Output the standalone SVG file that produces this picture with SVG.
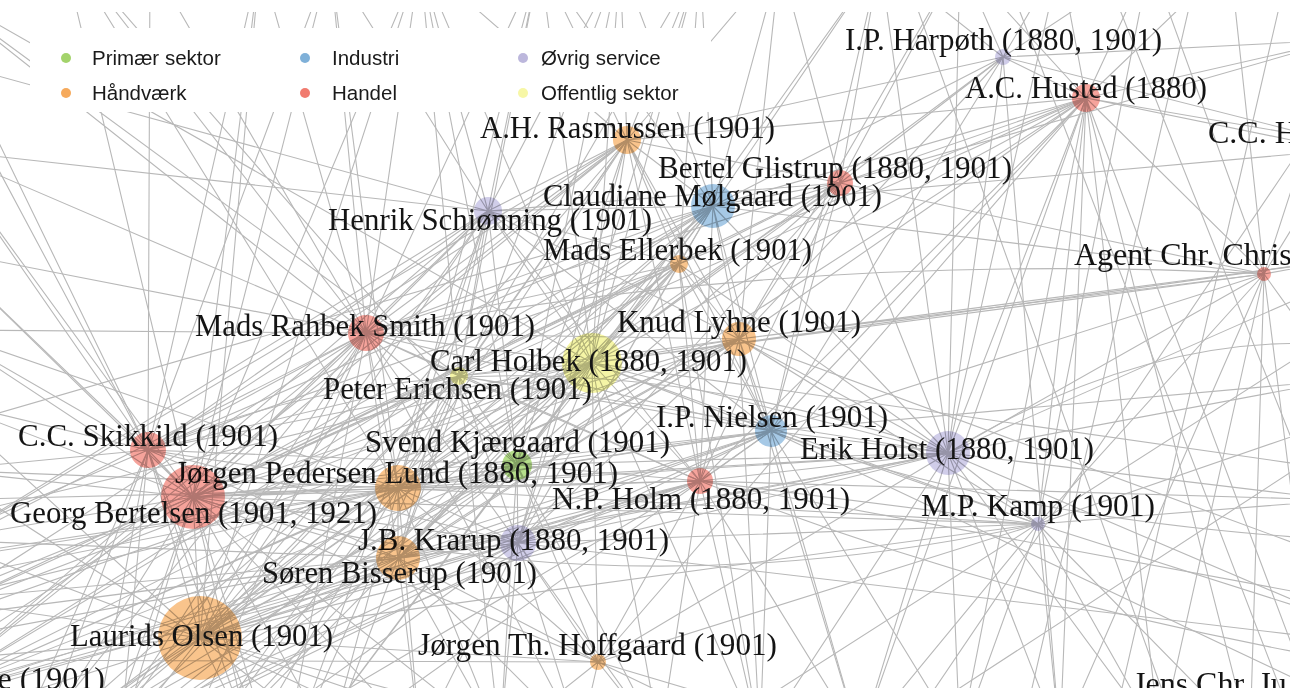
<svg xmlns="http://www.w3.org/2000/svg" width="1290" height="688" viewBox="0 0 1290 688">
<style>
.e{fill:none;stroke:#b8b8b8;stroke-width:1.1;stroke-linejoin:round}
.n{mix-blend-mode:multiply}
.red{fill:#f6a39b}.ora{fill:#f9c48c}.blu{fill:#a6c9e6}.lav{fill:#d0cde9}.gre{fill:#b5de8a}.yel{fill:#f5f5a6}
.lb{font-family:"Liberation Serif","Times New Roman",serif;font-size:32px;fill:#141414}
.lg{font-family:"Liberation Sans",Arial,sans-serif;font-size:20.5px;fill:#1a1a1a}
</style>
<rect width="1290" height="688" fill="#fff"/>
<g id="connectors">
<path class="e" d="M193 497L-60 250 193 497 -60 330 193 497 -60 400 193 497 -60 470 193 497 -60 540 193 497 -60 600 193 497 -60 660 193 497 40 740 193 497 120 740 193 497 250 740 193 497 330 740 193 497 148 450 193 497 200 638 193 497 398 488 193 497 398 558 193 497 518 543 193 497 517 465 193 497 459 376 193 497 366 333 193 497 592 363 193 497 488 211 193 497 627 140 193 497 713 206 193 497 679 264 193 497 739 339 193 497 771 431 193 497 700 481 193 497 948 453 193 497 1038 524 193 497 598 662 193 497 330 -40 193 497 420 -40 193 497 260 -40 193 497 420 740 193 497 500 740 193 497 1086 98 193 497 840 183 193 497 -60 150 193 497 120 705"/>
<path class="e" d="M200 638L-60 400 200 638 -60 470 200 638 -60 540 200 638 -60 600 200 638 -60 660 200 638 -60 720 200 638 40 740 200 638 120 740 200 638 250 740 200 638 330 740 200 638 420 740 200 638 148 450 200 638 398 488 200 638 398 558 200 638 518 543 200 638 517 465 200 638 592 363 200 638 366 333 200 638 459 376 200 638 488 211 200 638 700 481 200 638 771 431 200 638 598 662 200 638 500 740 200 638 580 740 200 638 739 339 200 638 713 206 200 638 948 453 200 638 260 -40 200 638 627 140 200 638 1038 524 200 638 120 705 200 638 420 -40"/>
<path class="e" d="M148 450L-60 150 148 450 -60 250 148 450 -60 330 148 450 -60 400 148 450 -60 470 148 450 -60 540 148 450 150 -40 148 450 260 -40 148 450 366 333 148 450 459 376 148 450 398 488 148 450 398 558 148 450 592 363 148 450 517 465 148 450 518 543 148 450 40 740 148 450 120 740 148 450 250 740 148 450 488 211 148 450 627 140 148 450 -60 60 148 450 713 206 148 450 679 264 148 450 330 -40"/>
<path class="e" d="M398 488L366 333 398 488 592 363 398 488 459 376 398 488 517 465 398 488 518 543 398 488 398 558 398 488 700 481 398 488 771 431 398 488 739 339 398 488 713 206 398 488 488 211 398 488 627 140 398 488 679 264 398 488 250 740 398 488 330 740 398 488 420 740 398 488 500 740 398 488 -60 330 398 488 -60 470 398 488 -60 600 398 488 948 453 398 488 598 662 398 488 330 -40 398 488 840 183 398 488 1038 524 398 488 540 -40"/>
<path class="e" d="M398 558L592 363 398 558 517 465 398 558 518 543 398 558 700 481 398 558 771 431 398 558 739 339 398 558 366 333 398 558 459 376 398 558 330 740 398 558 420 740 398 558 500 740 398 558 580 740 398 558 598 662 398 558 -60 540 398 558 -60 600 398 558 488 211 398 558 713 206 398 558 948 453 398 558 -60 690 398 558 679 264 398 558 620 -40"/>
<path class="e" d="M518 543L592 363 518 543 517 465 518 543 700 481 518 543 771 431 518 543 739 339 518 543 679 264 518 543 713 206 518 543 420 740 518 543 500 740 518 543 580 740 518 543 660 740 518 543 598 662 518 543 948 453 518 543 1038 524 518 543 627 140 518 543 366 333 518 543 459 376 518 543 840 183 518 543 700 -40 518 543 1340 640"/>
<path class="e" d="M517 465L592 363 517 465 459 376 517 465 366 333 517 465 700 481 517 465 771 431 517 465 739 339 517 465 713 206 517 465 679 264 517 465 488 211 517 465 627 140 517 465 500 740 517 465 660 740 517 465 948 453 517 465 598 662 517 465 420 -40 517 465 840 183 517 465 1086 98 517 465 620 -40"/>
<path class="e" d="M592 363L366 333 592 363 459 376 592 363 739 339 592 363 713 206 592 363 679 264 592 363 488 211 592 363 627 140 592 363 840 183 592 363 771 431 592 363 700 481 592 363 948 453 592 363 1003 57 592 363 1086 98 592 363 540 -40 592 363 620 -40 592 363 700 -40 592 363 660 740 592 363 760 740 592 363 598 662 592 363 1340 260 592 363 1264 274 592 363 1038 524 592 363 420 -40 592 363 880 -40 592 363 1340 470"/>
<path class="e" d="M366 333L459 376 366 333 488 211 366 333 627 140 366 333 713 206 366 333 679 264 366 333 739 339 366 333 260 -40 366 333 330 -40 366 333 420 -40 366 333 -60 250 366 333 -60 330 366 333 -60 150 366 333 771 431 366 333 700 481 366 333 840 183 366 333 580 740 366 333 150 -40 366 333 540 -40"/>
<path class="e" d="M459 376L488 211 459 376 627 140 459 376 713 206 459 376 739 339 459 376 771 431 459 376 700 481 459 376 679 264 459 376 420 -40 459 376 500 740 459 376 948 453 459 376 540 -40 459 376 700 -40"/>
<path class="e" d="M488 211L627 140 488 211 713 206 488 211 679 264 488 211 840 183 488 211 330 -40 488 211 420 -40 488 211 540 -40 488 211 -60 60 488 211 -60 150 488 211 739 339 488 211 771 431 488 211 700 481 488 211 620 -40"/>
<path class="e" d="M627 140L713 206 627 140 679 264 627 140 840 183 627 140 1003 57 627 140 1086 98 627 140 540 -40 627 140 620 -40 627 140 700 -40 627 140 739 339 627 140 771 431 627 140 420 -40 627 140 700 481 627 140 780 -40"/>
<path class="e" d="M713 206L840 183 713 206 679 264 713 206 739 339 713 206 771 431 713 206 1003 57 713 206 1086 98 713 206 620 -40 713 206 700 -40 713 206 780 -40 713 206 880 -40 713 206 948 453 713 206 700 481 713 206 1340 150 713 206 1264 274 713 206 540 -40"/>
<path class="e" d="M840 183L679 264 840 183 739 339 840 183 771 431 840 183 1003 57 840 183 1086 98 840 183 780 -40 840 183 880 -40 840 183 960 -40 840 183 948 453 840 183 1264 274 840 183 1340 40 840 183 700 481"/>
<path class="e" d="M679 264L739 339 679 264 771 431 679 264 700 481 679 264 948 453 679 264 700 -40 679 264 760 740 679 264 1086 98"/>
<path class="e" d="M739 339L771 431 739 339 700 481 739 339 948 453 739 339 780 -40 739 339 960 -40 739 339 1086 98 739 339 1264 274 739 339 1038 524 739 339 760 740 739 339 860 740 739 339 1340 260 739 339 1003 57 739 339 1340 560"/>
<path class="e" d="M771 431L700 481 771 431 948 453 771 431 1038 524 771 431 760 740 771 431 860 740 771 431 960 740 771 431 1086 98 771 431 1264 274 771 431 880 -40 771 431 1340 380 771 431 1003 57 771 431 1340 700"/>
<path class="e" d="M700 481L948 453 700 481 1038 524 700 481 598 662 700 481 660 740 700 481 760 740 700 481 860 740 700 481 1086 98 700 481 1340 500 700 481 1340 600"/>
<path class="e" d="M948 453L1038 524 948 453 1086 98 948 453 1003 57 948 453 1264 274 948 453 880 -40 948 453 960 -40 948 453 1060 -40 948 453 860 740 948 453 960 740 948 453 1060 740 948 453 1160 740 948 453 1340 380 948 453 1340 500 948 453 1340 620 948 453 598 662 948 453 760 740 948 453 1340 280"/>
<path class="e" d="M1038 524L1086 98 1038 524 1264 274 1038 524 960 740 1038 524 1060 740 1038 524 1160 740 1038 524 1250 740 1038 524 1340 500 1038 524 1340 620 1038 524 598 662 1038 524 1150 -40 1038 524 860 740 1038 524 1340 420"/>
<path class="e" d="M1086 98L1003 57 1086 98 960 -40 1086 98 1060 -40 1086 98 1150 -40 1086 98 1230 -40 1086 98 1340 40 1086 98 1340 150 1086 98 1330 140 1086 98 1264 274 1086 98 860 740 1086 98 960 740 1086 98 1060 740 1086 98 1160 740 1086 98 1250 740 1086 98 598 662 1086 98 1320 720"/>
<path class="e" d="M1003 57L880 -40 1003 57 960 -40 1003 57 1060 -40 1003 57 1150 -40 1003 57 1340 40 1003 57 1330 140 1003 57 1060 740"/>
<path class="e" d="M1264 274L1340 40 1264 274 1340 150 1264 274 1340 260 1264 274 1340 380 1264 274 1230 -40 1264 274 1060 740 1264 274 1160 740 1264 274 1250 740 1264 274 1320 720 1264 274 1150 -40"/>
<path class="e" d="M598 662L500 740 598 662 580 740 598 662 660 740 598 662 760 740 598 662 860 740 598 662 -60 660"/>
<path class="e" d="M-80 700L366 333 -80 700 459 376 -80 700 592 363 -80 700 517 465 -80 700 398 488 -80 700 518 543 -80 700 700 481 -80 700 771 431 -80 700 488 211 -80 700 627 140 -80 700 739 339 -80 700 713 206"/>
<path class="e" d="M0 780L366 333 0 780 592 363 0 780 517 465 0 780 398 488 0 780 398 558 0 780 518 543 0 780 700 481 0 780 459 376 0 780 148 450 0 780 679 264"/>
<path class="e" d="M90 760L592 363 90 760 459 376 90 760 366 333 90 760 517 465 90 760 518 543 90 760 771 431 90 760 739 339 90 760 488 211 90 760 148 450"/>
<path class="e" d="M160 800L398 488 160 800 592 363 160 800 518 543 160 800 700 481 160 800 366 333 160 800 713 206 160 800 627 140"/>
<path class="e" d="M280 780L592 363 280 780 366 333 280 780 148 450 280 780 193 497 280 780 517 465 280 780 771 431 280 780 488 211 280 780 459 376"/>
<path class="e" d="M-80 620L398 558 -80 620 518 543 -80 620 592 363 -80 620 459 376 -80 620 679 264 -80 620 366 333M-80 560L398 488 -80 560 366 333 -80 560 627 140 -80 560 488 211"/>
<path class="e" d="M-80 -20L366 333 -80 -20 459 376 -80 -20 148 450 -80 -20 592 363M60 -60L398 488 60 -60 193 497 60 -60 517 465 60 -60 366 333"/>
<path class="e" d="M900 -40L1180 740M1200 -40L1020 740M1340 330L700 740M1290 -40L1110 740M1340 440L880 740M1000 -40L1300 740M1340 90L900 740M1100 -40L1340 560M-60 500L700 481M-60 560L771 431M-60 620L739 339M-60 640L948 453M-60 700L700 481M-60 520L592 363M-60 580L517 465M-60 430L713 206"/>
<path class="e" d="M948 453Q1150 330 1340 345M771 431Q1000 520 1340 540M193 497Q600 620 1038 524M148 450Q500 300 948 453M366 333Q800 250 1264 274M700 481Q1000 600 1340 660"/>
</g>
<rect x="0" y="0" width="1290" height="12" fill="#fff"/>
<g id="legend">
<rect x="30" y="28" width="681" height="84" fill="#fff"/>
<circle cx="66" cy="58" r="5" fill="#a3d36b"/><text class="lg" x="92" y="65">Primær sektor</text>
<circle cx="305" cy="58" r="5" fill="#7fb0d8"/><text class="lg" x="332" y="65">Industri</text>
<circle cx="523" cy="58" r="5" fill="#bcb7dc"/><text class="lg" x="541" y="65">Øvrig service</text>
<circle cx="66" cy="93" r="5" fill="#f6aa5c"/><text class="lg" x="92" y="100">Håndværk</text>
<circle cx="305" cy="93" r="5" fill="#f17b6f"/><text class="lg" x="332" y="100">Handel</text>
<circle cx="523" cy="93" r="5" fill="#f7f7a6"/><text class="lg" x="541" y="100">Offentlig sektor</text>
</g>
<g id="n-harpoth"><circle class="n lav" cx="1003" cy="57" r="8"/><text class="lb" x="845" y="50" textLength="317" lengthAdjust="spacingAndGlyphs">I.P. Harpøth (1880, 1901)</text></g>
<g id="n-husted"><circle class="n red" cx="1086" cy="98" r="14"/><text class="lb" x="965" y="98" textLength="242" lengthAdjust="spacingAndGlyphs">A.C. Husted (1880)</text></g>
<g id="n-cch"><text class="lb" x="1208" y="143">C.C. H</text></g>
<g id="n-rasmussen"><circle class="n ora" cx="627" cy="140" r="14"/><text class="lb" x="480" y="138" textLength="295" lengthAdjust="spacingAndGlyphs">A.H. Rasmussen (1901)</text></g>
<g id="n-glistrup"><circle class="n red" cx="840" cy="183" r="13"/><text class="lb" x="658" y="178" textLength="354" lengthAdjust="spacingAndGlyphs">Bertel Glistrup (1880, 1901)</text></g>
<g id="n-molgaard"><circle class="n blu" cx="713" cy="206" r="22"/><text class="lb" x="543" y="206" textLength="339" lengthAdjust="spacingAndGlyphs">Claudiane Mølgaard (1901)</text></g>
<g id="n-schionning"><circle class="n lav" cx="488" cy="211" r="14"/><text class="lb" x="328" y="230" textLength="324" lengthAdjust="spacingAndGlyphs">Henrik Schiønning (1901)</text></g>
<g id="n-ellerbek"><circle class="n ora" cx="679" cy="264" r="9"/><text class="lb" x="543" y="260" textLength="269" lengthAdjust="spacingAndGlyphs">Mads Ellerbek (1901)</text></g>
<g id="n-agent"><circle class="n red" cx="1264" cy="274" r="7"/><text class="lb" x="1074" y="265">Agent Chr. Christ</text></g>
<g id="n-rahbek"><circle class="n red" cx="366" cy="333" r="18"/><text class="lb" x="195" y="336" textLength="340" lengthAdjust="spacingAndGlyphs">Mads Rahbek Smith (1901)</text></g>
<g id="n-lyhne"><circle class="n ora" cx="739" cy="339" r="17"/><text class="lb" x="617" y="332" textLength="244" lengthAdjust="spacingAndGlyphs">Knud Lyhne (1901)</text></g>
<g id="n-holbek"><circle class="n yel" cx="592" cy="363" r="30"/><text class="lb" x="430" y="371" textLength="317" lengthAdjust="spacingAndGlyphs">Carl Holbek (1880, 1901)</text></g>
<g id="n-erichsen"><circle class="n yel" cx="459" cy="376" r="9"/><text class="lb" x="323" y="399" textLength="269" lengthAdjust="spacingAndGlyphs">Peter Erichsen (1901)</text></g>
<g id="n-nielsen"><circle class="n blu" cx="771" cy="431" r="16"/><text class="lb" x="656" y="427" textLength="232" lengthAdjust="spacingAndGlyphs">I.P. Nielsen (1901)</text></g>
<g id="n-skikkild"><circle class="n red" cx="148" cy="450" r="18"/><text class="lb" x="18" y="446" textLength="260" lengthAdjust="spacingAndGlyphs">C.C. Skikkild (1901)</text></g>
<g id="n-kjaergaard"><circle class="n gre" cx="517" cy="465" r="15"/><text class="lb" x="365" y="452" textLength="305" lengthAdjust="spacingAndGlyphs">Svend Kjærgaard (1901)</text></g>
<g id="n-holst"><circle class="n lav" cx="948" cy="453" r="22"/><text class="lb" x="800" y="459" textLength="294" lengthAdjust="spacingAndGlyphs">Erik Holst (1880, 1901)</text></g>
<g id="n-lund"><circle class="n ora" cx="398" cy="488" r="23"/><text class="lb" x="175" y="483" textLength="443" lengthAdjust="spacingAndGlyphs">Jørgen Pedersen Lund (1880, 1901)</text></g>
<g id="n-holm"><circle class="n red" cx="700" cy="481" r="13"/><text class="lb" x="552" y="509" textLength="298" lengthAdjust="spacingAndGlyphs">N.P. Holm (1880, 1901)</text></g>
<g id="n-bertelsen"><circle class="n red" cx="193" cy="497" r="32"/><text class="lb" x="10" y="523" textLength="367" lengthAdjust="spacingAndGlyphs">Georg Bertelsen (1901, 1921)</text></g>
<g id="n-kamp"><circle class="n lav" cx="1038" cy="524" r="7"/><text class="lb" x="921" y="516" textLength="234" lengthAdjust="spacingAndGlyphs">M.P. Kamp (1901)</text></g>
<g id="n-krarup"><circle class="n lav" cx="518" cy="543" r="18"/><text class="lb" x="358" y="550" textLength="311" lengthAdjust="spacingAndGlyphs">J.B. Krarup (1880, 1901)</text></g>
<g id="n-bisserup"><circle class="n ora" cx="398" cy="558" r="22"/><text class="lb" x="262" y="583" textLength="275" lengthAdjust="spacingAndGlyphs">Søren Bisserup (1901)</text></g>
<g id="n-olsen"><circle class="n ora" cx="200" cy="638" r="42"/><text class="lb" x="70" y="646" textLength="263" lengthAdjust="spacingAndGlyphs">Laurids Olsen (1901)</text></g>
<g id="n-hoffgaard"><circle class="n ora" cx="598" cy="662" r="8"/><text class="lb" x="418" y="655" textLength="359" lengthAdjust="spacingAndGlyphs">Jørgen Th. Hoffgaard (1901)</text></g>
<g id="n-cut1901"><text class="lb" x="105" y="689" text-anchor="end">e (1901)</text></g>
<g id="n-jens"><text class="lb" x="1133" y="694">Jens Chr. Ju</text></g>
</svg>
